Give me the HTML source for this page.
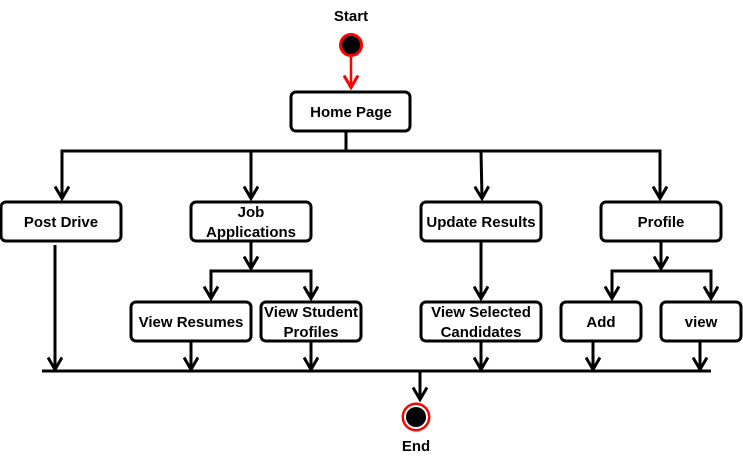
<!DOCTYPE html>
<html><head><style>
html,body{margin:0;padding:0;background:#fff;}
svg{display:block;font-family:"Liberation Sans",Arial,sans-serif;font-weight:bold;}
</style></head><body>
<svg width="743" height="463" viewBox="0 0 743 463" xmlns="http://www.w3.org/2000/svg">
<defs>
<marker id="a" markerWidth="16" markerHeight="16" refX="14" refY="8" orient="auto" markerUnits="userSpaceOnUse">
<path d="M1.5,1 L13.5,8 L1.5,15" fill="none" stroke="#000" stroke-width="3"/>
</marker>
<marker id="r" markerWidth="16" markerHeight="16" refX="14" refY="8" orient="auto" markerUnits="userSpaceOnUse">
<path d="M1.5,1 L13.5,8 L1.5,15" fill="none" stroke="#f00" stroke-width="3"/>
</marker>
</defs>
<g font-size="15" text-anchor="middle" fill="#000">
<text x="351" y="21">Start</text>
<text x="416" y="451">End</text>
</g>
<circle cx="351" cy="45" r="10.5" fill="#000" stroke="#f00" stroke-width="3"/>
<line x1="351" y1="57" x2="351" y2="88" stroke="#f00" stroke-width="2.5" marker-end="url(#r)"/>
<g fill="#fff" stroke="#000" stroke-width="3">
<rect x="291" y="92" width="119" height="39" rx="5"/>
<rect x="1" y="202" width="120" height="39" rx="5"/>
<rect x="191" y="202" width="120" height="39" rx="5"/>
<rect x="421" y="202" width="120" height="39" rx="5"/>
<rect x="601" y="202" width="120" height="39" rx="5"/>
<rect x="131" y="302" width="120" height="39" rx="5"/>
<rect x="261" y="302" width="100" height="39" rx="5"/>
<rect x="421" y="302" width="120" height="39" rx="5"/>
<rect x="561" y="302" width="80" height="39" rx="5"/>
<rect x="661" y="302" width="80" height="39" rx="5"/>
</g>
<g stroke="#000" stroke-width="3" fill="none">
<polyline points="346,131 346,151"/>
<line x1="60.5" y1="151" x2="661.5" y2="151"/>
<line x1="62" y1="151" x2="62" y2="199" marker-end="url(#a)"/>
<line x1="251" y1="151" x2="251" y2="199" marker-end="url(#a)"/>
<line x1="481" y1="151" x2="482" y2="199" marker-end="url(#a)"/>
<line x1="660" y1="151" x2="660" y2="199" marker-end="url(#a)"/>
<line x1="251" y1="241" x2="251" y2="269" marker-end="url(#a)"/>
<line x1="209.5" y1="271" x2="312.5" y2="271"/>
<line x1="211" y1="271" x2="211" y2="299" marker-end="url(#a)"/>
<line x1="311" y1="271" x2="311" y2="299" marker-end="url(#a)"/>
<line x1="481" y1="241" x2="481" y2="299" marker-end="url(#a)"/>
<line x1="661" y1="241" x2="661" y2="269" marker-end="url(#a)"/>
<line x1="610.5" y1="271" x2="712.5" y2="271"/>
<line x1="612" y1="271" x2="612" y2="299" marker-end="url(#a)"/>
<line x1="711" y1="271" x2="711" y2="299" marker-end="url(#a)"/>
<line x1="42" y1="371" x2="711" y2="371"/>
<line x1="55" y1="245" x2="55" y2="370" marker-end="url(#a)"/>
<line x1="191" y1="341" x2="191" y2="370" marker-end="url(#a)"/>
<line x1="311" y1="341" x2="311" y2="370" marker-end="url(#a)"/>
<line x1="481" y1="341" x2="481" y2="370" marker-end="url(#a)"/>
<line x1="593" y1="341" x2="593" y2="370" marker-end="url(#a)"/>
<line x1="700" y1="341" x2="700" y2="370" marker-end="url(#a)"/>
<line x1="420" y1="371" x2="420" y2="400" marker-end="url(#a)"/>
</g>
<circle cx="416" cy="417" r="14.5" fill="#f00"/>
<circle cx="416" cy="417" r="12" fill="#fff"/>
<circle cx="416" cy="417" r="10" fill="#000"/>
<g font-size="15" text-anchor="middle" fill="#000">
<text x="351" y="117">Home Page</text>
<text x="61" y="227">Post Drive</text>
<text x="251" y="217">Job</text>
<text x="251" y="237">Applications</text>
<text x="481" y="227">Update Results</text>
<text x="661" y="227">Profile</text>
<text x="191" y="327">View Resumes</text>
<text x="311" y="317">View Student</text>
<text x="311" y="337">Profiles</text>
<text x="481" y="317">View Selected</text>
<text x="481" y="337">Candidates</text>
<text x="601" y="327">Add</text>
<text x="701" y="327">view</text>
</g>
</svg>
</body></html>
